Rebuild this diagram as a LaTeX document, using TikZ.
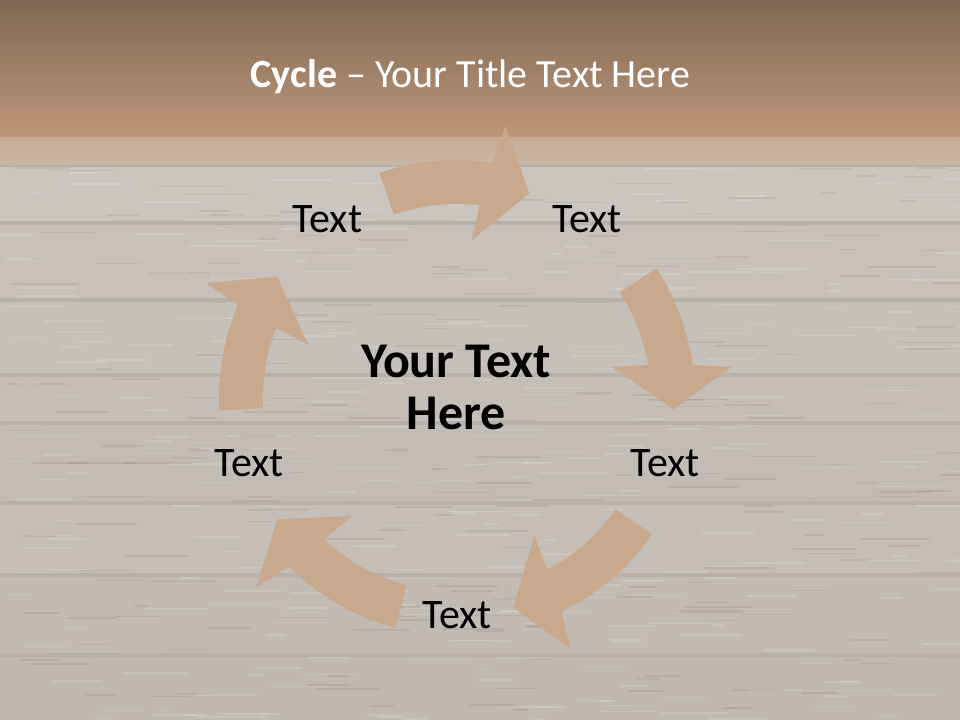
\documentclass[tikz,border=0pt]{standalone}
\usepackage{fontspec}
\setmainfont{Carlito}
\usetikzlibrary{positioning,calc}
\definecolor{barTop}{RGB}{127,105,84}
\definecolor{barBottom}{RGB}{190,151,122}
\definecolor{stripTan}{RGB}{196,168,145}
\definecolor{stripLight}{RGB}{203,182,164}
\definecolor{woodGrey}{RGB}{203,197,191}
\definecolor{grooveGrey}{RGB}{184,177,170}
\definecolor{arrowTan}{RGB}{201,169,141}

\begin{document}
\begin{tikzpicture}[x=0.75pt, y=0.75pt,
    steplabel/.style={font=\fontsize{31.5}{36}\selectfont, anchor=base, text=black, inner sep=0pt},
    centerlabel/.style={font=\fontsize{37.5}{39}\selectfont\bfseries, align=center, text=black, inner sep=0pt},
    titlelabel/.style={font=\fontsize{30}{35}\selectfont, anchor=base, text=white, inner sep=0pt},
    cyclearrow/.style={fill=arrowTan, draw=none},
    groove/.style={fill=grooveGrey},
    grain/.style={line width=1.2, opacity=0.14}
]
\useasboundingbox (0,0) rectangle (960,720);

% wooden boards
\fill[woodGrey] (0,0) rectangle (960,583);
\foreach \ya/\yb/\tone in {555/497/0, 497/420/2, 420/345/3, 345/297/5, 297/217/6, 217/145/5, 145/65/7, 65/0/8}
    \fill[black!70!brown, opacity=\tone*0.009] (0,\yb) rectangle (960,\ya);
\pgfmathsetseed{11}
\foreach \i in {1,...,320} {
    \pgfmathsetmacro\gx{rnd*960}
    \pgfmathsetmacro\gy{rnd*555}
    \pgfmathsetmacro\gl{10+rnd*60}
    \draw[grain, white, line cap=round] (\gx,\gy) -- ++(\gl,0);
}
\foreach \i in {1,...,220} {
    \pgfmathsetmacro\gx{rnd*960}
    \pgfmathsetmacro\gy{rnd*555}
    \pgfmathsetmacro\gl{10+rnd*60}
    \draw[grain, black!70!brown, opacity=0.08, line cap=round] (\gx,\gy) -- ++(\gl,0);
}
\foreach \y in {555,497,420,345,297,217,145,65}
    \fill[groove] (0,\y-2) rectangle (960,\y+2);

% title bar and strip
\shade[top color=stripTan, bottom color=stripLight, opacity=0.9] (0,555) rectangle (960,583);
\shade[top color=barTop, bottom color=barBottom] (0,583) rectangle (960,720);

% cycle arrows (tip angle / tail angle)
\begin{scope}[shift={(457,322)}]
\foreach \tip/\tail in {70.5/109, -3/33, -75/-35, -146/-105, 146/183}
    \fill[cyclearrow] (\tip:217) -- ({\tip+9.4}:276) -- ({\tip+11}:238)
        arc[start angle=\tip+11, end angle=\tail, radius=238]
        -- (\tail:194)
        arc[start angle=\tail, end angle=\tip+12.8, radius=194]
        -- ({\tip+14.3}:158) -- cycle;
\end{scope}

% texts
\node[titlelabel] (title) at (470.5,632) {\textbf{Cycle} \textendash{} Your Title Text Here};
\node[centerlabel, anchor=base] (center) at (456,290) {Your Text\\Here};
\node[steplabel] (stepA) at (327.5,487) {Text};
\node[steplabel] (stepB) at (587,487) {Text};
\node[steplabel] (stepC) at (665,243) {Text};
\node[steplabel] (stepD) at (457,91) {Text};
\node[steplabel] (stepE) at (249,243) {Text};

\end{tikzpicture}
\end{document}
